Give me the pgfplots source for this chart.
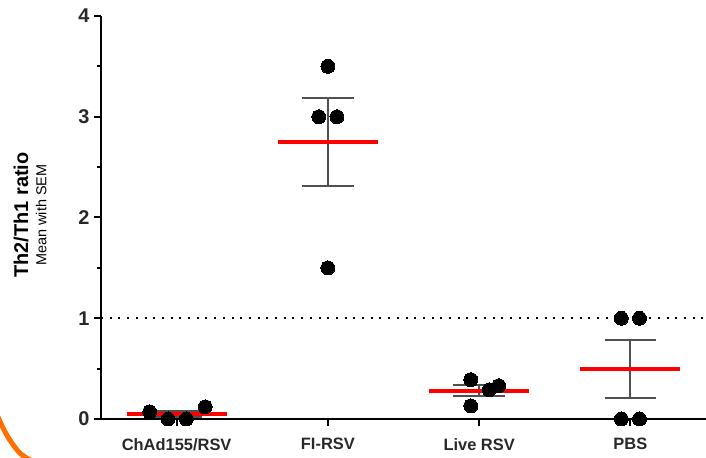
\documentclass[border=0pt]{standalone}
\usepackage{fontspec}
\setmainfont{Liberation Sans}
\usepackage{pgfplots}
\pgfplotsset{compat=1.18}
\definecolor{ebgray}{RGB}{80,80,80}
\definecolor{arcorange}{RGB}{255,112,0}
\definecolor{txt}{RGB}{40,40,40}
\begin{document}
\begin{tikzpicture}[x=1bp,y=1bp]
\clip (0,0) rectangle (706,458);
\useasboundingbox (0,0) rectangle (706,458);
\begin{axis}[
  at={(101bp,39bp)}, anchor=south west,
  scale only axis, width=605bp, height=403bp,
  xmin=-0.5, xmax=3.5, ymin=0, ymax=4,
  axis x line*=bottom, axis y line*=left,
  axis line style={line width=2bp, black},
  xtick={0,1,2,3}, xticklabels={ChAd155/RSV,FI-RSV,Live RSV,PBS},
  ytick={0,1,2,3,4}, yticklabels={0,1,2,3,4},
  minor ytick={0.5,1.5,2.5,3.5},
  tick align=outside,
  major tick length=7bp, minor tick length=4bp,
  every tick/.style={black, line width=2bp},
  x tick label style={font=\fontsize{16.5}{16.5}\selectfont\bfseries, text=txt, yshift=-9bp},
  y tick label style={font=\fontsize{20}{20}\selectfont\bfseries, text=txt, xshift=-1bp},
  clip=false,
]
% reference line at 1
\addplot[black, line width=2bp, dash pattern=on 2bp off 6.7bp] coordinates {(-0.5,1) (3.5,1)};
% error bars (mean +- SEM): vertical lines and whiskers
\pgfplotsset{eb/.style={ebgray, line width=2bp}}
\addplot[eb] coordinates {(0,0.0185) (0,0.0765)};
\addplot[eb] coordinates {(-0.17,0.0185) (0.17,0.0185)};
\addplot[eb] coordinates {(-0.17,0.0765) (0.17,0.0765)};
\addplot[eb] coordinates {(1,2.317) (1,3.183)};
\addplot[eb] coordinates {(0.83,2.317) (1.17,2.317)};
\addplot[eb] coordinates {(0.83,3.183) (1.17,3.183)};
\addplot[eb] coordinates {(2,0.224) (2,0.338)};
\addplot[eb] coordinates {(1.83,0.224) (2.17,0.224)};
\addplot[eb] coordinates {(1.83,0.338) (2.17,0.338)};
\addplot[eb] coordinates {(3,0.211) (3,0.789)};
\addplot[eb] coordinates {(2.83,0.211) (3.17,0.211)};
\addplot[eb] coordinates {(2.83,0.789) (3.17,0.789)};
% means
\addplot[red, line width=4bp] coordinates {(-0.33,0.0475) (0.33,0.0475)};
\addplot[red, line width=4bp] coordinates {(0.67,2.75) (1.33,2.75)};
\addplot[red, line width=4bp] coordinates {(1.67,0.281) (2.33,0.281)};
\addplot[red, line width=4bp] coordinates {(2.67,0.5) (3.33,0.5)};
% individual points
\addplot[only marks, mark=*, mark size=7bp, mark options={draw=black, fill=black, line width=0bp}]
  coordinates {(-0.178,0.07) (-0.057,0.0) (0.064,0.0) (0.189,0.12)
               (1.0,3.5) (0.94,3.0) (1.06,3.0) (1.0,1.5)
               (1.945,0.39) (1.945,0.13) (2.066,0.29) (2.13,0.33)
               (2.94,1.0) (3.06,1.0) (2.94,0.0) (3.06,0.0)};
\node[rotate=90, font=\fontsize{20}{20}\selectfont\bfseries, text=black] at (axis description cs:-0.132,0.506) {Th2/Th1 ratio};
\node[rotate=90, font=\fontsize{14.5}{14.5}\selectfont, text=black] at (axis description cs:-0.099,0.506) {Mean with SEM};
\end{axis}
\draw[arcorange, line width=5bp] plot[smooth] coordinates {(-4,46) (0,36.3) (6.7,23) (13.3,13) (20,4.7) (26.7,0) (34,-4)};
\end{tikzpicture}
\end{document}
